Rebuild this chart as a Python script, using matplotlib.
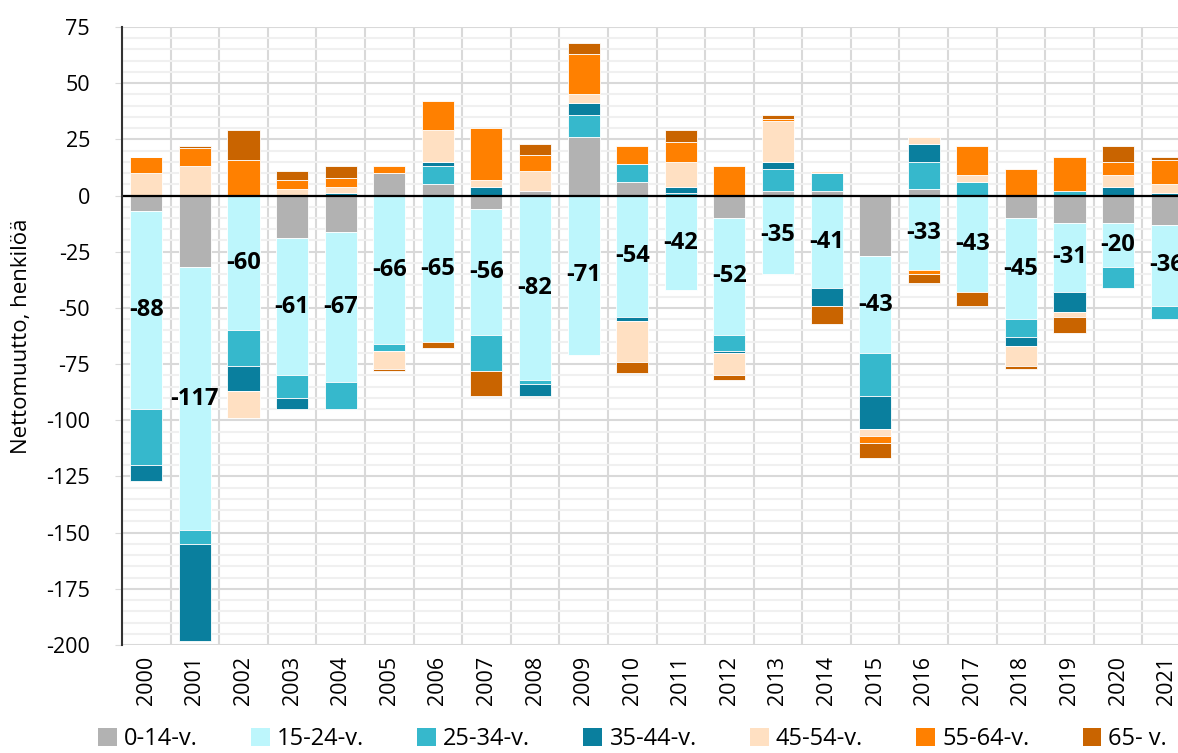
import numpy as np
import matplotlib.pyplot as plt
from matplotlib.patches import Patch

plt.rcParams["font.family"] = ["Open Sans", "DejaVu Sans"]
plt.rcParams["axes.unicode_minus"] = False

years = [str(y) for y in range(2000, 2022)]
groups = ["0-14-v.", "15-24-v.", "25-34-v.", "35-44-v.", "45-54-v.", "55-64-v.", "65- v."]
colors = ["#b2b2b2", "#bdf6fc", "#36b8cc", "#0a7f9e", "#ffe0c2", "#ff8000", "#c96400"]

# nettomuutto per ikäryhmä, luettu kuvasta
a0_14 = [-7, -32, 0, -19, -16, 10, 5, -6, 2, 26, 6, 0, -10, 2, 2, -27, 3, 0, -10, -12, -12, -13]
a15_24 = [-88, -117, -60, -61, -67, -66, -65, -56, -82, -71, -54, -42, -52, -35, -41, -43, -33, -43, -45, -31, -20, -36]
a25_34 = [-25, -6, -16, -10, -12, -3, 8, -16, -2, 10, 8, 1, -7, 10, 8, -19, 12, 6, -8, 2, -9, -6]
a35_44 = [-7, -43, -11, -5, 1, 0, 2, 4, -5, 5, -2, 3, -1, 3, -8, -15, 8, 0, -4, -9, 4, 1]
a45_54 = [10, 13, -12, 3, 3, -8, 14, 3, 9, 4, -18, 11, -10, 18, 1, -3, 3, 3, -9, -2, 5, 4]
a55_64 = [7, 8, 16, 4, 4, 3, 13, 23, 7, 18, 8, 9, 13, 1, 0, -3, -2, 13, 12, 15, 6, 11]
a65 = [0, 1, 13, 4, 5, -1, -3, -11, 5, 5, -5, 5, -2, 2, -8, -7, -4, -6, -1, -7, 7, 1]

series = [a0_14, a15_24, a25_34, a35_44, a45_54, a55_64, a65]

fig = plt.figure(figsize=(11.78, 7.53), dpi=100)
ax = fig.add_axes([122 / 1178, 1 - 645 / 753, 1069 / 1178, 618 / 753])

x = np.arange(len(years))
pos_bottom = np.zeros(len(years))
neg_bottom = np.zeros(len(years))

for i, (vals, c) in enumerate(zip(series, colors)):
    v = np.array(vals, dtype=float)
    bottom = np.where(v >= 0, pos_bottom, neg_bottom)
    bars = ax.bar(x, v, 0.66, bottom=bottom, color=c, edgecolor="white",
                  linewidth=0.6, zorder=3)
    pos_bottom += np.where(v > 0, v, 0)
    neg_bottom += np.where(v < 0, v, 0)
    if i == 1:
        ax.bar_label(bars, labels=[str(int(a)) for a in vals], label_type="center",
                     fontsize=17, fontweight="bold", color="black", zorder=5)

ax.set_xlim(-0.5, len(years) - 0.5)
ax.set_ylim(-200, 75)
ax.set_yticks(np.arange(-200, 76, 25))
ax.set_yticks(np.arange(-200, 76, 5), minor=True)
ax.set_xticks(x)
ax.set_xticklabels(years, rotation=90, fontsize=15.5)
ax.set_xticks(np.arange(-0.5, len(years), 1), minor=True)
ax.tick_params(axis="y", labelsize=15.5, length=5, color="#d9d9d9", which="major", pad=18)
ax.tick_params(axis="y", which="minor", length=0)
ax.tick_params(axis="x", which="both", length=0, pad=8)

ax.grid(axis="y", which="minor", color="#f0f0f0", lw=1.5, zorder=0)
ax.grid(axis="y", which="major", color="#d9d9d9", lw=1.5, zorder=1)
ax.grid(axis="x", which="minor", color="#d9d9d9", lw=1.5, zorder=1)
ax.grid(axis="x", which="major", visible=False)
ax.axhline(0, color="black", lw=1.6, zorder=4)

for s in ["top", "right", "bottom"]:
    ax.spines[s].set_visible(False)
ax.spines["left"].set_color("#333333")
ax.spines["left"].set_linewidth(1.5)
ax.spines["left"].set_zorder(4)

ax.set_ylabel("Nettomuutto, henkilöä", fontsize=16, labelpad=10)

handles = [Patch(facecolor=c, label=g) for g, c in zip(groups, colors)]
fig.legend(handles=handles, loc="center", bbox_to_anchor=(0.537, 0.018), ncol=7,
           frameon=False, fontsize=17, handlelength=0.8, handleheight=0.8,
           handletextpad=0.3, columnspacing=2.25)

fig.savefig("out.png", dpi=100)
